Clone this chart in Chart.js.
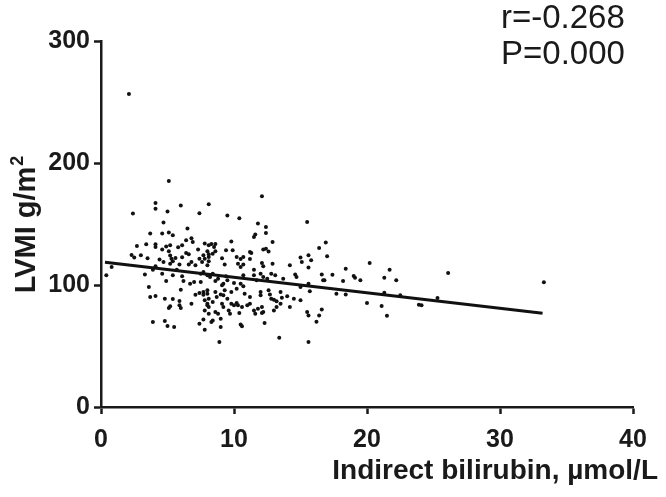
<!DOCTYPE html>
<html><head><meta charset="utf-8">
<script src="https://cdn.jsdelivr.net/npm/chart.js@4/dist/chart.umd.min.js"></script>
<style>html,body{margin:0;padding:0;background:#fff;overflow:hidden}#wrap{width:666px;height:497px}</style>
</head><body><div id="wrap"><canvas id="c" width="666" height="497"></canvas></div>
<script>
// Indirect bilirubin (µmol/L) values, grouped; lvmi holds matching LVMI values in same order
const bilirubin = [
  2.1,5.1,4.1,6.0,8.1,4.1,2.4,5.0,7.4,4.7,6.5,3.7,4.6,5.1,5.4,6.8,6.4,6.9,2.7,3.4,4.1,4.1,4.9,5.2,6.1,5.8,7.8,8.1,4.6,5.1,6.4,7.3,8.0,2.3,2.5,3.0,3.5,4.4,5.2,5.3,5.6,6.1,6.6,7.4,7.7,8.1,
  12.1,9.5,10.4,11.8,12.4,15.5,12.4,11.6,11.5,12.9,9.8,8.3,8.6,8.5,8.1,8.4,8.6,9.4,9.9,11.2,11.3,12.2,12.4,12.6,7.8,9.1,10.2,10.5,10.7,11.2,15.0,15.6,
  0.8,0.4,3.3,3.9,4.1,4.7,4.6,5.2,5.4,5.4,5.7,5.9,6.1,6.6,6.8,4.9,6.2,6.7,7.0,7.5,7.1,7.5,8.0,8.2,3.6,6.0,3.7,4.1,4.8,5.4,5.9,5.2,5.1,5.9,6.0,6.8,7.1,7.4,7.7,8.0,7.8,8.0,8.1,3.9,4.8,5.0,5.5,7.4,7.7,7.8,
  7.6,8.0,8.1,9.3,10.3,10.5,10.7,11.5,12.1,12.2,12.9,14.2,15.1,7.7,8.4,9.4,10.7,11.5,12.0,12.2,12.8,13.1,13.7,14.6,14.7,8.6,8.8,9.2,9.5,9.1,
  10.0,10.5,10.7,11.7,12.5,15.6,15.0,7.7,8.0,8.6,8.7,9.0,9.2,9.3,9.5,9.8,10.2,10.8,11.2,12.0,12.0,12.6,12.7,12.8,13.0,13.2,13.5,13.6,14.0,14.5,
  15.0,8.0,8.1,8.4,9.1,9.2,9.8,10.0,10.2,10.3,10.6,11.0,11.2,11.5,11.8,12.1,12.2,13.2,13.5,14.2,7.8,8.1,8.6,8.8,9.6,9.7,10.4,11.6,12.1,13.0,
  15.5,15.6,8.4,8.3,9.0,10.5,10.6,12.3,9.0,8.9,13.4,15.6,
  16.9,16.4,17.0,15.8,15.6,20.2,18.4,21.7,16.6,16.7,16.8,17.4,19.0,19.1,18.2,19.5,21.3,22.2,15.7,17.7,18.4,21.3,22.5,20.0,21.1,16.6,16.4,21.5,16.2,23.9,26.1,25.3,24.1,33.3
];
const lvmi = [
  256.5,185.3,167.3,165.1,166.2,162.4,158.6,160.2,158.8,151.2,146.3,142.2,142.2,143.0,140.8,138.3,136.7,135.3,132.0,133.4,133.4,131.2,131.5,132.6,132.6,130.9,134.0,132.6,129.0,127.6,126.2,129.0,127.6,124.6,122.5,124.3,121.9,120.8,124.1,121.6,122.1,122.7,125.2,121.6,124.3,122.9,
  172.8,156.9,154.7,150.4,147.6,151.7,142.7,141.4,139.4,135.3,135.6,133.6,133.6,131.2,125.2,125.7,127.6,128.4,128.4,127.1,126.2,129.0,129.8,127.4,121.6,121.9,123.0,121.3,123.0,121.3,122.5,124.4,
  114.7,107.9,108.7,112.6,115.3,118.8,109.3,117.5,119.4,107.9,112.6,116.9,107.1,116.9,118.8,103.3,103.3,101.1,102.4,102.4,116.1,109.3,107.9,106.5,98.3,96.2,90.1,90.9,88.8,88.5,86.8,82.5,81.1,83.3,81.1,84.7,92.1,93.4,92.1,92.9,87.4,83.3,81.9,69.6,70.4,66.3,65.5,68.3,71.8,63.4,
  118.8,116.1,119.4,116.9,117.5,114.7,116.9,112.6,118.0,115.3,117.5,116.1,118.8,110.6,109.3,107.1,107.9,107.9,109.3,106.5,109.3,107.9,105.2,108.7,106.5,103.3,105.2,101.1,103.8,99.7,
  101.6,101.1,98.9,103.8,105.2,101.1,98.3,94.2,95.6,94.2,90.1,92.3,91.5,95.6,88.8,94.2,97.0,92.9,90.1,94.2,91.5,95.6,92.3,88.8,88.0,86.6,94.2,89.6,90.7,88.8,
  87.4,84.7,88.8,86.0,84.7,81.9,84.7,83.3,85.2,83.3,81.9,83.3,84.7,79.2,80.6,81.9,77.8,81.9,84.7,81.9,79.2,76.5,77.8,76.5,79.2,76.5,77.0,76.5,77.0,79.2,
  77.8,75.1,71.0,69.6,72.4,67.7,66.1,68.8,65.5,53.2,56.8,53.2,
  134.8,130.4,123.5,120.3,114.3,118.0,113.3,112.6,108.7,103.8,103.8,108.5,107.4,106.0,103.3,103.8,106.0,103.8,94.8,92.9,92.3,93.7,91.5,85.2,82.7,80.0,75.1,74.8,69.9,83.9,109.8,89.3,83.3,102.2
];
const fitX = [0.3, 33.2];
const fitY = [118.6, 76.8];
const xTickValues = [0, 10, 20, 30, 40];
const yTickValues = [0, 100, 200, 300];
const statLines = ['r=-0.268', 'P=0.000'];
const xTitle = 'Indirect bilirubin, \u00b5mol/L';
const yTitleMain = 'LVMI g/m';
const yTitleSup = '2';

const scatterData = bilirubin.map((x, i) => ({x: x, y: lvmi[i]}));
const fitData = fitX.map((x, i) => ({x: x, y: fitY[i]}));

const FONT = '"Liberation Sans", Arial, sans-serif';

const textPlugin = {
  id: 'texts',
  afterDraw(chart) {
    const ctx = chart.ctx;
    ctx.save();
    ctx.fillStyle = '#1a1a1a';
    // stats
    ctx.font = '33px ' + FONT;
    ctx.textAlign = 'left';
    ctx.textBaseline = 'alphabetic';
    ctx.fillText(statLines[0], 501, 28);
    ctx.fillText(statLines[1], 501, 64);
    // x title
    ctx.font = 'bold 28px ' + FONT;
    ctx.textAlign = 'right';
    ctx.fillText(xTitle, 658, 479);
    // y title
    ctx.translate(35, 225);
    ctx.rotate(-Math.PI / 2);
    ctx.font = 'bold 29px ' + FONT;
    const wMain = ctx.measureText(yTitleMain).width;
    ctx.font = 'bold 18px ' + FONT;
    const wSup = ctx.measureText(yTitleSup).width;
    const start = -(wMain + wSup) / 2;
    ctx.textAlign = 'left';
    ctx.font = 'bold 29px ' + FONT;
    ctx.fillText(yTitleMain, start, 0);
    ctx.font = 'bold 18px ' + FONT;
    ctx.fillText(yTitleSup, start + wMain + 1, -12);
    ctx.restore();
  }
};

new Chart(document.getElementById('c'), {
  type: 'scatter',
  data: {
    datasets: [
      {
        data: scatterData,
        pointRadius: 2,
        pointHoverRadius: 2,
        pointBackgroundColor: '#111',
        pointBorderWidth: 0,
        showLine: false
      },
      {
        data: fitData,
        showLine: true,
        borderColor: '#111',
        borderWidth: 3,
        pointRadius: 0,
        fill: false
      }
    ]
  },
  options: {
    responsive: false,
    animation: false,
    devicePixelRatio: 1,
    layout: {padding: {left: 0, right: 33, top: 41, bottom: 0}},
    plugins: {legend: {display: false}, tooltip: {enabled: false}},
    scales: {
      x: {
        type: 'linear',
        min: 0, max: 40,
        afterBuildTicks: (s) => { s.ticks = xTickValues.map(v => ({value: v})); },
        afterFit: (s) => { s.height = 90; },
        ticks: {color: '#1a1a1a', font: {family: FONT, size: 25, weight: 'bold'}, padding: 11, maxRotation: 0},
        border: {display: true, color: '#1a1a1a', width: 2.5},
        grid: {display: true, drawOnChartArea: false, drawTicks: true, tickLength: 7, tickWidth: 2.5, tickColor: '#1a1a1a', color: '#1a1a1a'}
      },
      y: {
        type: 'linear',
        min: 0, max: 300,
        afterBuildTicks: (s) => { s.ticks = yTickValues.map(v => ({value: v})); },
        afterFit: (s) => { s.width = 101; },
        ticks: {color: '#1a1a1a', font: {family: FONT, size: 25, weight: 'bold'}, padding: 4},
        border: {display: true, color: '#1a1a1a', width: 2.5},
        grid: {display: true, drawOnChartArea: false, drawTicks: true, tickLength: 7, tickWidth: 2.5, tickColor: '#1a1a1a', color: '#1a1a1a'}
      }
    }
  },
  plugins: [textPlugin]
});
</script>
</body></html>
